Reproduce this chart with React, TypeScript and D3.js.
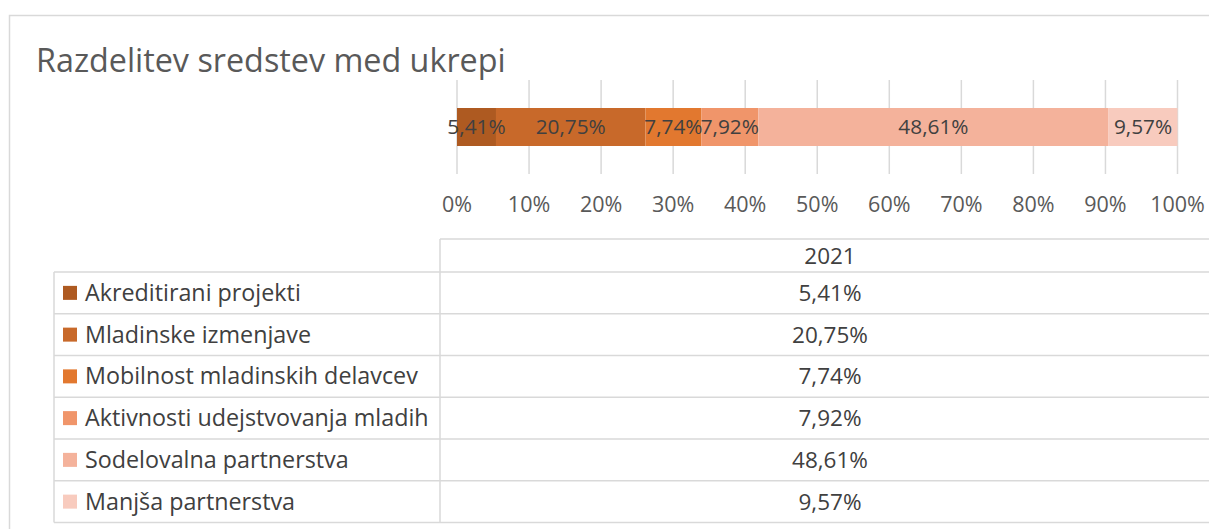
import React, { useEffect } from "react";
import * as d3 from "d3";

const title = "Razdelitev sredstev med ukrepi";
const categories = [
  "Akreditirani projekti",
  "Mladinske izmenjave",
  "Mobilnost mladinskih delavcev",
  "Aktivnosti udejstvovanja mladih",
  "Sodelovalna partnerstva",
  "Manjša partnerstva",
];
const values2021 = [5.41, 20.75, 7.74, 7.92, 48.61, 9.57];
const seriesLabel = "2021";
const colors = ["#AE5A21", "#C8692A", "#E2782F", "#F0956A", "#F4B29B", "#F8CBBE"];
const ticks = [0, 10, 20, 30, 40, 50, 60, 70, 80, 90, 100];

const FONT = "'Open Sans', 'Noto Sans', sans-serif";
const fmt = (v: number) => d3.format(".2f")(v).replace(".", ",") + "%";

export default function App() {
  useEffect(() => {
    document.body.style.margin = "0";
  }, []);

  const W = 1209;
  const H = 529;
  const x = d3.scaleLinear().domain([0, 100]).range([457, 1177.5]);
  const gridTop = 80;
  const gridBottom = 174;
  const barY0 = 108;
  const barY1 = 146;

  const stacked = values2021.reduce<{ start: number; end: number; v: number; i: number }[]>(
    (acc, v, i) => {
      const s = acc.length ? acc[acc.length - 1].end : 0;
      acc.push({ start: s, end: s + v, v, i });
      return acc;
    },
    []
  );

  const tableLeft = 54;
  const colX = 440;
  const tableRight = 1240;
  const headerTop = 239;
  const headerBottom = 272;
  const rowH = (522.5 - headerBottom) / categories.length;
  const valueCx = 830;
  const grid = "#d9d9d9";
  const tableFs = 22.5;

  return (
    <svg width={W} height={H} style={{ display: "block", fontFamily: FONT }}>
      <rect x={0} y={0} width={W} height={H} fill="#fff" />
      <rect x={9.5} y={15.5} width={W + 50} height={H + 50} fill="none" stroke={grid} strokeWidth={1.5} />
      <text x={36} y={72} fontSize={32.3} fill="#595959">
        {title}
      </text>

      {ticks.map((t) => (
        <line key={"g" + t} x1={x(t)} x2={x(t)} y1={gridTop} y2={gridBottom} stroke={grid} strokeWidth={1.5} />
      ))}

      {stacked.map((d) => (
        <rect
          key={"b" + d.i}
          x={x(d.start)}
          y={barY0}
          width={x(d.end) - x(d.start)}
          height={barY1 - barY0}
          fill={colors[d.i]}
        />
      ))}
      {stacked.map((d) => (
        <text
          key={"l" + d.i}
          x={(x(d.start) + x(d.end)) / 2}
          y={(barY0 + barY1) / 2}
          dy="0.36em"
          textAnchor="middle"
          fontSize={20.8}
          fill="#404040"
        >
          {fmt(d.v)}
        </text>
      ))}

      {ticks.map((t) => (
        <text key={"t" + t} x={x(t)} y={212} textAnchor="middle" fontSize={21.5} fill="#595959">
          {t + "%"}
        </text>
      ))}

      {/* table */}
      <line x1={colX} x2={tableRight} y1={headerTop} y2={headerTop} stroke={grid} strokeWidth={1.5} />
      <line x1={colX} x2={colX} y1={headerTop} y2={headerBottom + rowH * categories.length} stroke={grid} strokeWidth={1.5} />
      <line x1={tableLeft} x2={tableLeft} y1={headerBottom} y2={headerBottom + rowH * categories.length} stroke={grid} strokeWidth={1.5} />
      {d3.range(categories.length + 1).map((i) => (
        <line
          key={"r" + i}
          x1={tableLeft}
          x2={tableRight}
          y1={headerBottom + i * rowH}
          y2={headerBottom + i * rowH}
          stroke={grid}
          strokeWidth={1.5}
        />
      ))}
      <text x={valueCx} y={(headerTop + headerBottom) / 2} dy="0.36em" textAnchor="middle" fontSize={tableFs} fill="#404040">
        {seriesLabel}
      </text>
      {categories.map((c, i) => {
        const cy = headerBottom + i * rowH + rowH / 2;
        return (
          <g key={"c" + i}>
            <rect x={63} y={cy - 7} width={14} height={14} fill={colors[i]} />
            <text x={85} y={cy} dy="0.34em" fontSize={23.3} fill="#404040">
              {c}
            </text>
            <text x={valueCx} y={cy} dy="0.36em" textAnchor="middle" fontSize={tableFs} fill="#404040">
              {fmt(values2021[i])}
            </text>
          </g>
        );
      })}
    </svg>
  );
}
